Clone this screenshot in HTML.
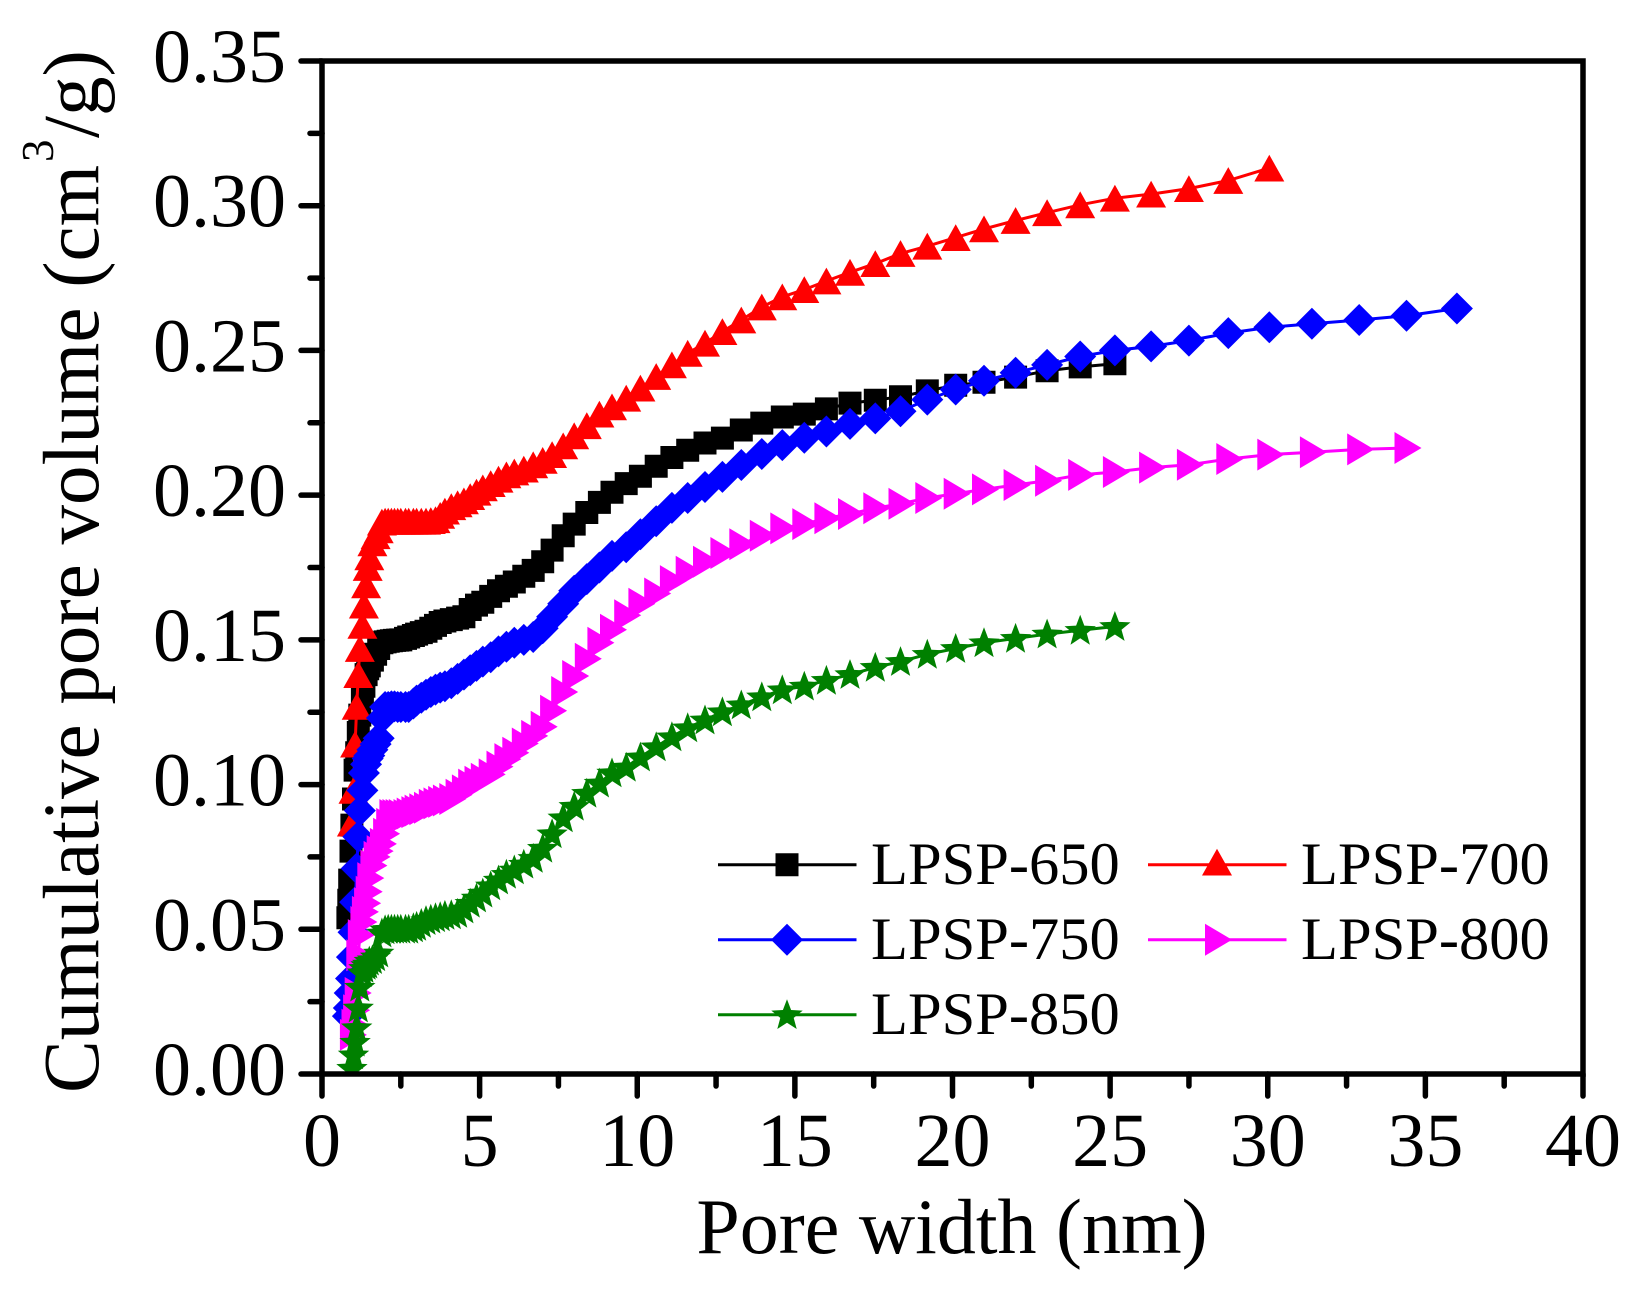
<!DOCTYPE html>
<html lang="en">
<head>
<meta charset="utf-8">
<title>Cumulative pore volume</title>
<style>
html,body{margin:0;padding:0;background:#fff}
svg{display:block}
text{font-family:"Liberation Serif",serif;fill:#000}
</style>
</head>
<body>
<svg id="chart" xmlns="http://www.w3.org/2000/svg" width="1640" height="1295" viewBox="0 0 1640 1295">
  <defs><clipPath id="plot-clip"><rect x="322" y="61" width="1261" height="1013"/></clipPath></defs>
  <rect width="1640" height="1295" fill="#fff"/>
  <g id="series-layer" clip-path="url(#plot-clip)"></g>
  <g id="axis-layer"></g>
  <rect x="322" y="61" width="1261" height="1013" fill="none" stroke="#000" stroke-width="5.5"/>
  <text x="952" y="1253" font-size="78" text-anchor="middle">Pore width (nm)</text>
  <g>
    <text transform="translate(98,1093) rotate(-90)" font-size="79">Cumulative pore volume (cm</text>
    <text transform="translate(53,162) rotate(-90)" font-size="45">3</text>
    <text transform="translate(98,138) rotate(-90)" font-size="79">/g)</text>
  </g>
  <g id="legend-layer"></g>
</svg>
<script>
const xTickLabels = ["0","5","10","15","20","25","30","35","40"];
const yTickLabels = ["0.00","0.05","0.10","0.15","0.20","0.25","0.30","0.35"];
const xDomain = [0, 40];
const yDomain = [0, 0.35];

const poreWidths = [
  0.82,0.85,0.88,0.92,0.95, 1.0,1.05,1.1,1.15,1.2,
  1.28,1.33,1.4,1.45,1.5, 1.6,1.7,1.8,1.9,2.0,
  2.1,2.2,2.3,2.4,2.5, 2.65,2.75,2.9,3.0,3.15,
  3.3,3.45,3.6,3.75,3.9, 4.1,4.3,4.5,4.7,4.9,
  5.1,5.35,5.6,5.85,6.1, 6.4,6.7,7.0,7.3,7.65,
  8.0,8.4,8.8,9.2,9.65, 10.1,10.6,11.1,11.6,12.15,
  12.7,13.3,13.95,14.6,15.3, 16.0,16.75,17.55,18.35,19.2,
  20.1,21.0,22.0,23.0,24.05, 25.15,26.3,27.5,28.75,30.05,
  31.4,32.9,34.4,36.0
];

const lpsp650 = [
  .054,.06,.067,.077,.086, .095,.105,.111,.118,.124,
  .13,.134,.138,.14,.141, .143,.145,.147,.149,.1493,
  .1495,.1497,.1498,.1499,.15, .1505,.151,.1515,.152,.1525,
  .153,.154,.155,.156,.1565, .157,.1575,.158,.1605,.162,
  .163,.165,.167,.1685,.17, .172,.174,.177,.181,.186,
  .19,.194,.1975,.201,.204, .2065,.21,.213,.2155,.218,
  .2197,.2225,.2249,.227,.228, .2298,.2318,.2328,.234,.236,
  .238,.239,.2408,.243,.2443, .2454
];
const lpsp700 = [
  null,null,null,null,.0867, .098,.114,.127,.138,.147,
  .155,.162,.169,.175,.1787, .1835,.186,.188,.1907,.191,
  .191,.191,.191,.191,.191, .191,.191,.191,.191,.191,
  .191,.1912,.1915,.193,.1945, .196,.197,.198,.1995,.201,
  .2025,.204,.2055,.207,.208, .209,.2105,.212,.214,.217,
  .2205,.224,.228,.2305,.2335, .237,.241,.245,.249,.2525,
  .2565,.2605,.265,.2685,.271, .274,.277,.28,.2835,.286,
  .289,.292,.2949,.2976,.3003, .3026,.304,.3059,.3087,.313
];
const lpsp750 = [
  .02,.0228,.028,.033,.0404, .049,.0594,.071,.082,.091,
  .098,.104,.107,.109,.11, .112,.114,.116,.123,.1268,
  .1268,.127,.127,.1268,.1268, .1268,.1268,.128,.129,.13,
  .131,.132,.1328,.1335,.134, .135,.1365,.138,.1395,.141,
  .1425,.144,.146,.1476,.149, .15,.151,.154,.158,.1625,
  .167,.171,.175,.179,.182, .1865,.191,.1956,.199,.2028,
  .2063,.2104,.2142,.2173,.2198, .222,.2246,.2265,.229,.233,
  .2365,.2395,.2423,.245,.2479, .25,.2514,.2534,.256,.258,
  .2592,.2605,.262,.2645
];
const lpsp800 = [
  null,null,null,null,.0135, .017,.022,.028,.041,.048,
  .0525,.056,.059,.063,.0677, .072,.075,.077,.0795,.083,
  .0864,.0895,.0895,.0895,.0895, .0895,.09,.0905,.091,.0915,
  .092,.093,.0935,.094,.0945, .095,.0965,.098,.1,.101,
  .102,.1035,.1062,.1088,.111, .1142,.1168,.12,.1255,.132,
  .1375,.1435,.149,.1535,.1585, .1625,.166,.1703,.1735,.177,
  .18,.183,.186,.1885,.19, .192,.1935,.1955,.197,.199,
  .2005,.202,.2035,.205,.207, .208,.2095,.2105,.2125,.214,
  .2148,.2158,.2163
];
const lpsp850 = [
  null,null,null,null,.002, .0066,.011,.016,.0228,.03,
  .035,.0365,.0375,.038,.039, .0395,.0405,.0418,.0487,.0498,
  .05,.05,.05,.05,.05, .05,.05,.0505,.051,.052,
  .053,.0535,.054,.0543,.0548, .055,.0555,.057,.059,.0608,
  .0625,.065,.067,.069,.0705, .0725,.0745,.078,.083,.0885,
  .0925,.097,.1005,.104,.106, .1095,.113,.1165,.1196,.1223,
  .1251,.1275,.1303,.1327,.134, .136,.138,.1405,.1425,.145,
  .147,.149,.1505,.152,.1533, .1546
];

const SVG_NS = "http://www.w3.org/2000/svg";
const plot = { left: 322, right: 1583, top: 61, bottom: 1074 };

function xScale(v) {
  return plot.left + (v - xDomain[0]) / (xDomain[1] - xDomain[0]) * (plot.right - plot.left);
}
function yScale(v) {
  return plot.bottom - (v - yDomain[0]) / (yDomain[1] - yDomain[0]) * (plot.bottom - plot.top);
}
function make(tag, attrs) {
  const el = document.createElementNS(SVG_NS, tag);
  for (const k in attrs) el.setAttribute(k, attrs[k]);
  return el;
}
function markerPoints(shape, cx, cy) {
  if (shape === "square") {
    return [[cx-11.5,cy-11.5],[cx+11.5,cy-11.5],[cx+11.5,cy+11.5],[cx-11.5,cy+11.5]];
  }
  if (shape === "triangle") {
    return [[cx,cy-13.4],[cx+15,cy+13.4],[cx-15,cy+13.4]];
  }
  if (shape === "diamond") {
    return [[cx,cy-16],[cx+16,cy],[cx,cy+16],[cx-16,cy]];
  }
  if (shape === "right") {
    return [[cx-12,cy-16],[cx+15,cy],[cx-12,cy+16]];
  }
  const pts = [];
  for (let i = 0; i < 10; i++) {
    const r = i % 2 === 0 ? 16.5 : 7;
    const a = -Math.PI / 2 + i * Math.PI / 5;
    pts.push([cx + r * Math.cos(a), cy + 1 + r * Math.sin(a)]);
  }
  return pts;
}
function markerEl(shape, cx, cy, color) {
  return make("polygon", {
    points: markerPoints(shape, cx, cy).map(p => p[0].toFixed(1) + "," + p[1].toFixed(1)).join(" "),
    fill: color
  });
}

const seriesLayer = document.getElementById("series-layer");
const axisLayer = document.getElementById("axis-layer");
const legendLayer = document.getElementById("legend-layer");

function drawSeries(name, values, color, shape) {
  const g = make("g", {});
  
  
  const pts = [];
  values.forEach((v, i) => {
    if (v !== null) pts.push([xScale(poreWidths[i]), yScale(v)]);
  });
  const line = make("polyline", {
    points: pts.map(p => p[0].toFixed(1) + "," + p[1].toFixed(1)).join(" "),
    fill: "none",
    stroke: color,
    "stroke-width": 3
  });
  
  
  g.appendChild(line);
  pts.forEach(p => {
    const m = markerEl(shape, p[0], p[1], color);
    
    
    g.appendChild(m);
  });
  seriesLayer.appendChild(g);
}
drawSeries("lpsp-650", lpsp650, "#000000", "square");
drawSeries("lpsp-700", lpsp700, "#ff0000", "triangle");
drawSeries("lpsp-750", lpsp750, "#0000ff", "diamond");
drawSeries("lpsp-800", lpsp800, "#ff00ff", "right");
drawSeries("lpsp-850", lpsp850, "#008000", "star");

function tickLine(x1, y1, x2, y2, name) {
  const t = make("line", { x1, y1, x2, y2, stroke: "#000", "stroke-width": 5.5, "stroke-linecap": "round" });
  
  
  axisLayer.appendChild(t);
}
xTickLabels.forEach((label, i) => {
  const v = Number(label);
  const x = xScale(v);
  tickLine(x, plot.bottom, x, plot.bottom + 22, "x-major-tick");
  const t = make("text", { x: x, y: 1166, "font-size": 76, "text-anchor": "middle" });
  
  
  t.textContent = label;
  axisLayer.appendChild(t);
  if (i < xTickLabels.length - 1) {
    const mx = xScale(v + 2.5);
    tickLine(mx, plot.bottom, mx, plot.bottom + 12, "x-minor-tick");
  }
});
yTickLabels.forEach((label, i) => {
  const v = Number(label);
  const y = yScale(v);
  tickLine(plot.left, y, plot.left - 21, y, "y-major-tick");
  const t = make("text", { x: 286, y: y + 21, "font-size": 76, "text-anchor": "end" });
  
  
  t.textContent = label;
  axisLayer.appendChild(t);
  if (i < yTickLabels.length - 1) {
    const my = yScale(v + 0.025);
    tickLine(plot.left, my, plot.left - 12, my, "y-minor-tick");
  }
});

const legendLabels = ["LPSP-650","LPSP-700","LPSP-750","LPSP-800","LPSP-850"];
const legendColors = ["#000000","#ff0000","#0000ff","#ff00ff","#008000"];
const legendShapes = ["square","triangle","diamond","right","star"];
legendLabels.forEach((label, i) => {
  const col = i % 2;
  const row = Math.floor(i / 2);
  const x0 = col === 0 ? 718 : 1148;
  const cy = 864.7 + row * 75;
  const g = make("g", {});
  
  
  const l = make("line", { x1: x0, y1: cy, x2: x0 + 138.5, y2: cy, stroke: legendColors[i], "stroke-width": 3 });
  
  
  g.appendChild(l);
  const markerY = legendShapes[i] === "triangle" ? cy - 2.6 : cy;
  const m = markerEl(legendShapes[i], x0 + 69, markerY, legendColors[i]);
  
  
  g.appendChild(m);
  const t = make("text", { x: x0 + 153, y: cy + 19.5, "font-size": 60.5 });
  
  
  t.textContent = label;
  g.appendChild(t);
  legendLayer.appendChild(g);
});
</script>
</body>
</html>
